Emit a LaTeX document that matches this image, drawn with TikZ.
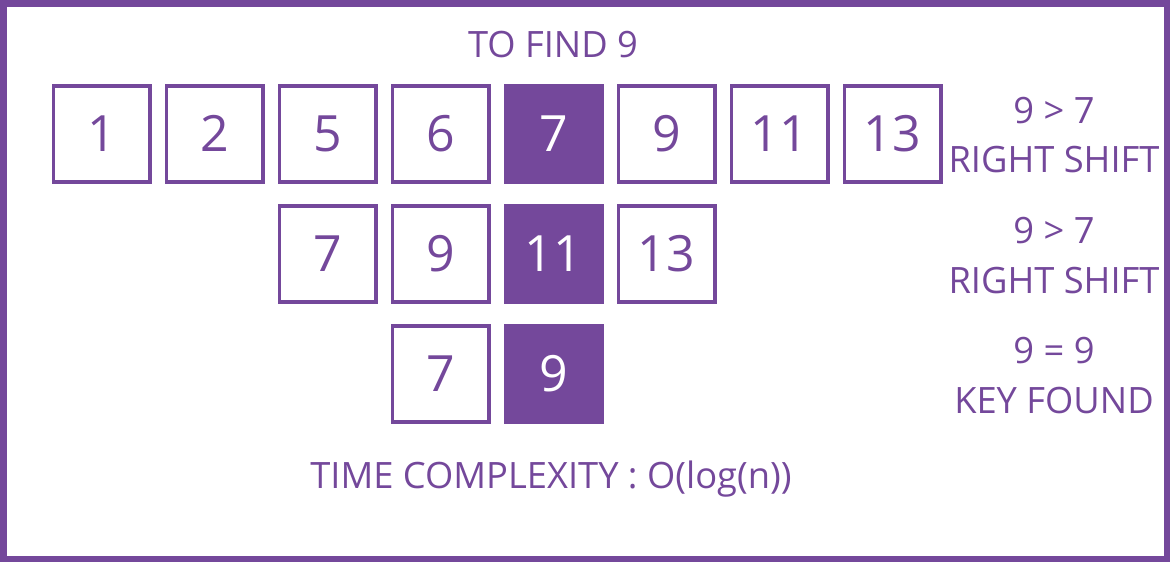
\documentclass[tikz,border=0pt]{standalone}
\usepackage{fontspec}
\setmainfont{Open Sans}
\definecolor{purp}{RGB}{116,72,155}
\begin{document}
\begin{tikzpicture}[x=1pt,y=-1pt,
  cell/.style={draw=purp,line width=3.8pt,minimum width=96.2pt,minimum height=96.2pt,inner sep=0pt},
  hot/.style={cell,fill=purp},
  num/.style={anchor=base,inner sep=0pt,text=purp,font=\fontsize{50}{50}\selectfont},
  hotnum/.style={num,text=white},
  lbl/.style={anchor=base,inner sep=0pt,text=purp,font=\fontsize{36.3}{36.3}\selectfont}]
\useasboundingbox (0,0) rectangle (1170,562);
\draw[purp,line width=6.5pt] (3.25,3.25) rectangle (1166.75,558.75);
\node[lbl] (title) at (553,57) {TO FIND 9};
% row 1
\foreach \i/\v in {0/1,1/2,2/5,3/6,5/9,6/11,7/13}{
  \node[cell] (a\i) at ({101.5+113*\i},134) {};
  \node[num] (an\i) at ({101.5+113*\i},151) {\v};
}
\node[hot] (a4) at ({101.5+113*4},134) {};
\node[hotnum] (an4) at ({101.5+113*4},151) {7};
% row 2
\foreach \i/\v in {2/7,3/9,5/13}{
  \node[cell] (b\i) at ({101.5+113*\i},254) {};
  \node[num] (bn\i) at ({101.5+113*\i},271) {\v};
}
\node[hot] (b4) at ({101.5+113*4},254) {};
\node[hotnum] (bn4) at ({101.5+113*4},271) {11};
% row 3
\node[cell] (c3) at ({101.5+113*3},374) {};
\node[num] (cn3) at ({101.5+113*3},391) {7};
\node[hot] (c4) at ({101.5+113*4},374) {};
\node[hotnum] (cn4) at ({101.5+113*4},391) {9};
% labels
\node[lbl] (l1a) at (1054,123) {9 > 7};
\node[lbl] (l1b) at (1054,172) {RIGHT SHIFT};
\node[lbl] (l2a) at (1054,243) {9 > 7};
\node[lbl] (l2b) at (1054,293) {RIGHT SHIFT};
\node[lbl] (l3a) at (1054,363) {9 = 9};
\node[lbl] (l3b) at (1054,413) {KEY FOUND};
\node[lbl] (tc) at (551,488) {TIME COMPLEXITY : O(log(n))};
\end{tikzpicture}
\end{document}
